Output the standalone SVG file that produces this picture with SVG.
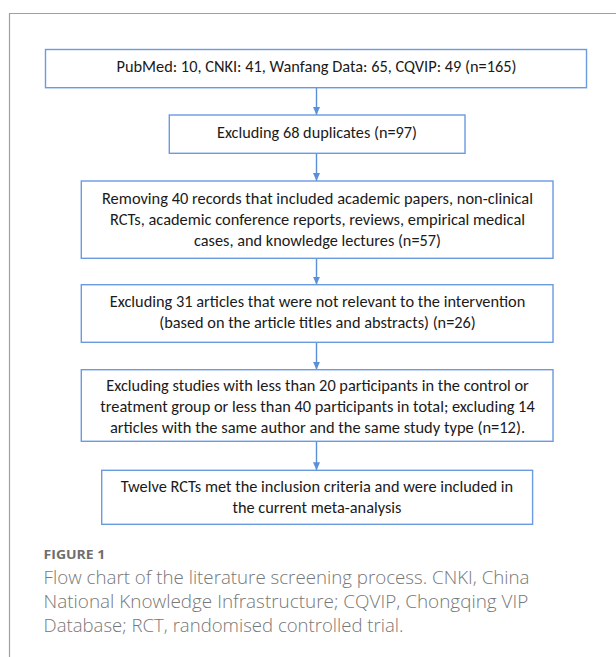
<svg xmlns="http://www.w3.org/2000/svg" width="616" height="657" viewBox="0 0 616 657">
<defs>
<style>
.box{fill:#ffffff;stroke:#6a9ae0;stroke-width:1.4}
.t{font-family:Carlito,"Liberation Sans",Arial,sans-serif;font-size:15.5px;fill:#1a1a1a;text-anchor:middle}
.conn{stroke:#5b8fd9;stroke-width:1.4;fill:none}
.cap{font-family:"Open Sans","Liberation Sans",sans-serif;font-size:17.5px;font-weight:300;fill:#777777}
.fig{font-family:"Open Sans","Liberation Sans",sans-serif;font-size:13px;font-weight:700;fill:#6e6e6e}
</style>
<marker id="ah" viewBox="0 0 8 7" refX="8" refY="3.5" markerWidth="8" markerHeight="7" markerUnits="userSpaceOnUse" orient="auto">
<path d="M0,0 L8,3.5 L0,7 Z" fill="#5b8fd9"/>
</marker>
</defs>
<rect width="616" height="657" fill="#ffffff"/>
<path d="M9.5,657 V13.5 H616" fill="none" stroke="#a0a0a0" stroke-width="1.2"/>
<g id="connectors">
<line class="conn" x1="316.5" y1="88" x2="316.5" y2="115" marker-end="url(#ah)"/>
<line class="conn" x1="316.5" y1="153.5" x2="316.5" y2="181" marker-end="url(#ah)"/>
<line class="conn" x1="316.5" y1="258.5" x2="316.5" y2="284.7" marker-end="url(#ah)"/>
<line class="conn" x1="316.5" y1="342.5" x2="316.5" y2="369.7" marker-end="url(#ah)"/>
<line class="conn" x1="316.5" y1="441.5" x2="316.5" y2="470.3" marker-end="url(#ah)"/>
</g>
<g id="node1">
<rect class="box" x="45.5" y="49.5" width="541" height="38.2"/>
<text class="t" x="316.5" y="72" textLength="400" lengthAdjust="spacingAndGlyphs">PubMed: 10, CNKI: 41, Wanfang Data: 65, CQVIP: 49 (n=165)</text>
</g>
<g id="node2">
<rect class="box" x="169.3" y="115" width="295.7" height="38.3"/>
<text class="t" x="317" y="137.5" textLength="200" lengthAdjust="spacingAndGlyphs">Excluding 68 duplicates (n=97)</text>
</g>
<g id="node3">
<rect class="box" x="81.3" y="181" width="471.7" height="77.3"/>
<text class="t" x="317.5" y="204" textLength="431" lengthAdjust="spacingAndGlyphs">Removing 40 records that included academic papers, non-clinical</text>
<text class="t" x="317.5" y="225" textLength="415" lengthAdjust="spacingAndGlyphs">RCTs, academic conference reports, reviews, empirical medical</text>
<text class="t" x="317.5" y="246" textLength="247" lengthAdjust="spacingAndGlyphs">cases, and knowledge lectures (n=57)</text>
</g>
<g id="node4">
<rect class="box" x="81.3" y="284.7" width="471.7" height="57.6"/>
<text class="t" x="317.5" y="306.5" textLength="415.6" lengthAdjust="spacingAndGlyphs">Excluding 31 articles that were not relevant to the intervention</text>
<text class="t" x="317.5" y="327.5" textLength="316.6" lengthAdjust="spacingAndGlyphs">(based on the article titles and abstracts) (n=26)</text>
</g>
<g id="node5">
<rect class="box" x="81.3" y="369.7" width="471.7" height="71.6"/>
<text class="t" x="317.5" y="390.5" textLength="422.6" lengthAdjust="spacingAndGlyphs">Excluding studies with less than 20 participants in the control or</text>
<text class="t" x="317.5" y="411.7" textLength="434.4" lengthAdjust="spacingAndGlyphs">treatment group or less than 40 participants in total; excluding 14</text>
<text class="t" x="317.5" y="433" textLength="415.2" lengthAdjust="spacingAndGlyphs">articles with the same author and the same study type (n=12).</text>
</g>
<g id="node6">
<rect class="box" x="101.7" y="470.3" width="430.9" height="54"/>
<text class="t" x="317" y="492" textLength="392.4" lengthAdjust="spacingAndGlyphs">Twelve RCTs met the inclusion criteria and were included in</text>
<text class="t" x="317" y="513" textLength="169" lengthAdjust="spacingAndGlyphs">the current meta-analysis</text>
</g>
<g id="caption">
<text class="fig" x="43.6" y="559.3" textLength="61.7" lengthAdjust="spacingAndGlyphs">FIGURE 1</text>
<text class="cap" x="43.6" y="584.3" textLength="485.9" lengthAdjust="spacingAndGlyphs">Flow chart of the literature screening process. CNKI, China</text>
<text class="cap" x="43.6" y="608.3" textLength="484.7" lengthAdjust="spacingAndGlyphs">National Knowledge Infrastructure; CQVIP, Chongqing VIP</text>
<text class="cap" x="43.6" y="632.3" textLength="359.8" lengthAdjust="spacingAndGlyphs">Database; RCT, randomised controlled trial.</text>
</g>
</svg>
